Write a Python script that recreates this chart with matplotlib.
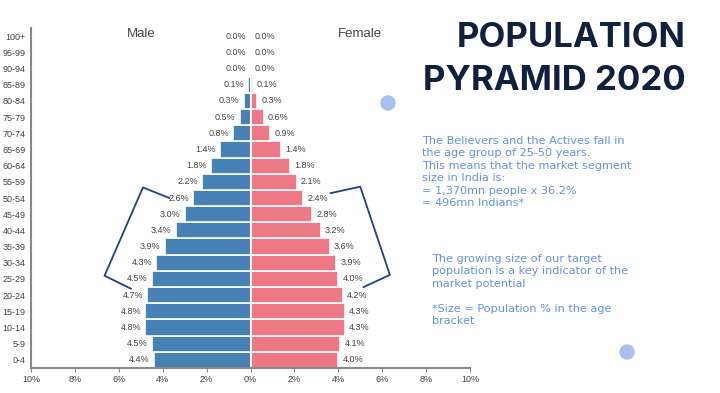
import matplotlib.pyplot as plt
from matplotlib.lines import Line2D
from matplotlib.patches import Ellipse

plt.rcParams['font.family'] = ['Liberation Sans', 'DejaVu Sans']

# data (percent of population)
age_groups = ['0-4', '5-9', '10-14', '15-19', '20-24', '25-29', '30-34', '35-39',
              '40-44', '45-49', '50-54', '55-59', '60-64', '65-69', '70-74', '75-79',
              '80-84', '85-89', '90-94', '95-99', '100+']
male = [4.4, 4.5, 4.8, 4.8, 4.7, 4.5, 4.3, 3.9, 3.4, 3.0, 2.6, 2.2, 1.8, 1.4, 0.8, 0.5,
        0.3, 0.1, 0.0, 0.0, 0.0]
female = [4.0, 4.1, 4.3, 4.3, 4.2, 4.0, 3.9, 3.6, 3.2, 2.8, 2.4, 2.1, 1.8, 1.4, 0.9, 0.6,
          0.3, 0.1, 0.0, 0.0, 0.0]
x_ticks = [-10, -8, -6, -4, -2, 0, 2, 4, 6, 8, 10]

W, H = 720, 393
fig = plt.figure(figsize=(7.2, 3.93), dpi=100)
ax = fig.add_axes([31 / W, 1 - 368 / H, (470 - 31) / W, (368 - 28) / H])

pos = list(range(len(age_groups)))
ax.barh(pos, [-m for m in male], height=1.0, color='#4682b4', edgecolor='white', linewidth=1.2)
ax.barh(pos, female, height=1.0, color='#ee7886', edgecolor='white', linewidth=1.2)

for y, m, f in zip(pos, male, female):
    ax.annotate(f'{m:.1f}%', (-m, y), xytext=(-3, 0), textcoords='offset points',
                ha='right', va='center', fontsize=6.5, color='#444444')
    ax.annotate(f'{f:.1f}%', (f, y), xytext=(3, 0), textcoords='offset points',
                ha='left', va='center', fontsize=6.5, color='#444444')

ax.set_xlim(-10, 10)
ax.set_ylim(-0.5, 20.5)
ax.set_yticks(pos)
ax.set_yticklabels(age_groups, fontsize=6.5, color='#444444')
ax.set_xticks(x_ticks)
ax.set_xticklabels([f'{abs(t)}%' for t in x_ticks], fontsize=6.5, color='#444444')
ax.tick_params(axis='y', length=0, pad=4)
ax.tick_params(axis='x', length=3, color='#888888', pad=2)
for s in ['top', 'right']:
    ax.spines[s].set_visible(False)
for s in ['left', 'bottom']:
    ax.spines[s].set_color('#888888')
    ax.spines[s].set_linewidth(1.5)

ax.text(-5, 20.15, 'Male', ha='center', va='center', fontsize=9.5, color='#444444')
ax.text(5, 20.15, 'Female', ha='center', va='center', fontsize=9.5, color='#444444')

# brackets around 25-50 age groups
navy = '#1f3f8f'
ax.add_line(Line2D([-3.7, -4.9, -6.65, -5.45], [10.0, 10.65, 5.2, 4.4],
                   color=navy, lw=1.3, clip_on=False))
ax.add_line(Line2D([3.65, 5.0, 6.35, 5.15], [10.3, 10.7, 5.25, 4.5],
                   color=navy, lw=1.3, clip_on=False))

# title and notes
fig.text(686 / W, 1 - 38 / H, 'POPULATION', ha='right', va='center', fontsize=25,
         fontweight='bold', family='Inter', color='#0f2040')
fig.text(686 / W, 1 - 81 / H, 'PYRAMID 2020', ha='right', va='center', fontsize=25,
         fontweight='bold', family='Inter', color='#0f2040')

note_color = '#6390ea'
fig.text(422 / W, 1 - 136 / H,
         'The Believers and the Actives fall in\nthe age group of 25-50 years.\n'
         'This means that the market segment\nsize in India is:\n'
         '= 1,370mn people x 36.2%\n= 496mn Indians*',
         ha='left', va='top', fontsize=8.1, family='DejaVu Sans', color=note_color,
         linespacing=1.3)
fig.text(432 / W, 1 - 254 / H,
         'The growing size of our target\npopulation is a key indicator of the\n'
         'market potential\n\n*Size = Population % in the age\nbracket',
         ha='left', va='top', fontsize=8.1, family='DejaVu Sans', color=note_color,
         linespacing=1.3)

# decorative dots
for cx, cy in [(388, 103), (627, 352)]:
    fig.add_artist(Ellipse((cx / W, 1 - cy / H), 14 / W, 14 / H, color='#a9bff0',
                           transform=fig.transFigure))

fig.savefig('out.png', dpi=100)
